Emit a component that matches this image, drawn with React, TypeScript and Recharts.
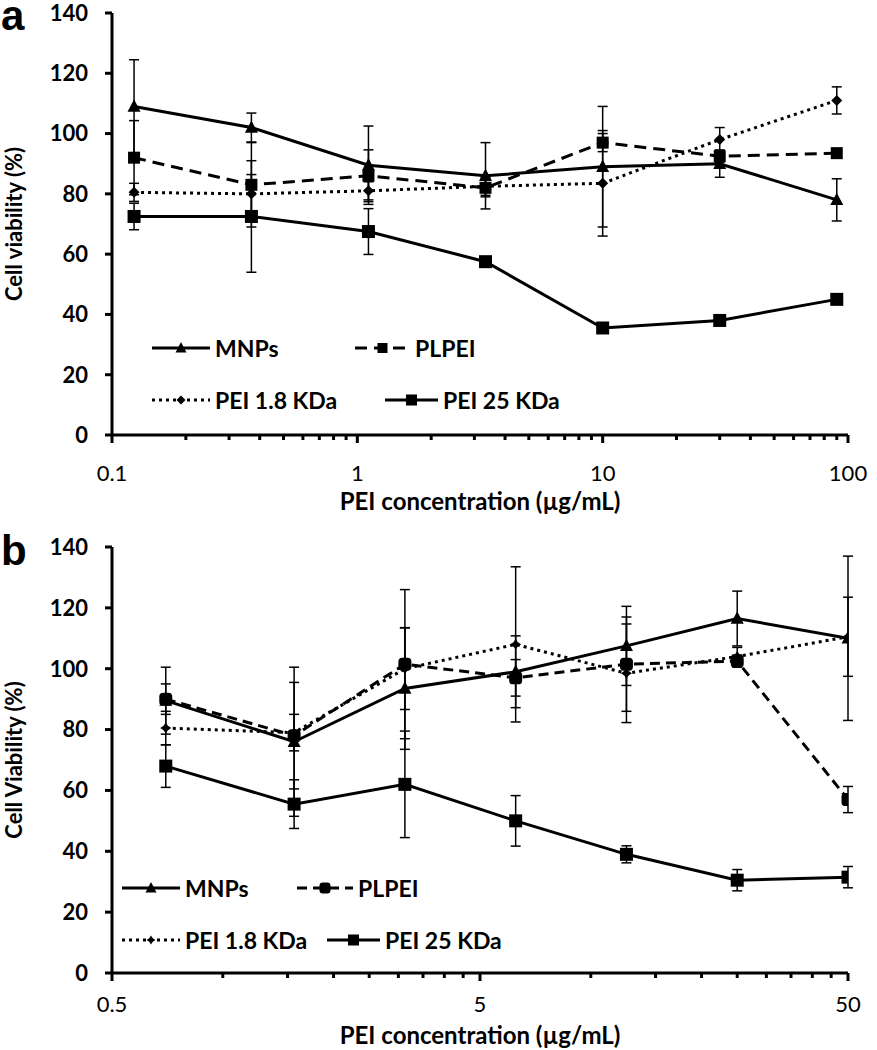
import { LineChart, Line, XAxis, YAxis, ErrorBar, Legend, Label } from 'recharts'

// panel a: 3-fold dilutions
const concA = [0.123, 0.37, 1.11, 3.33, 10, 30, 90]
const mnpA = [109, 102, 89.5, 86, 89, 90, 78]
const mnpAErr = [15.5, 4.8, 13, 11, 20, 4.5, 7]
const plpeiA = [92, 83, 86, 82, 97, 92.5, 93.5]
const plpeiAErr = [12.3, 14, 8.6, 3, 3, 2, 1.5]
const pei18A = [80.5, 80, 81, 82.5, 83.5, 98, 111]
const pei18AErr = [3, 6.4, 3, 3, 17.5, 4, 4.5]
const pei25A = [72.5, 72.5, 67.5, 57.5, 35.5, 38, 45]
const pei25AErr = [4.4, 18.5, 7.6, 1.5, 1.5, 1.2, 1.5]

// panel b: 2-fold dilutions
const concB = [0.7, 1.5625, 3.125, 6.25, 12.5, 25, 50]
const mnpB = [89.5, 76, 93.5, 99, 107.5, 116.5, 110]
const mnpBErr = [11, 24.5, 20, 11.8, 13, 9, 27]
const plpeiB = [90, 78, 101.5, 97, 101.5, 102.5, 57]
const plpeiBErr = [5, 17.5, 24.5, 6, 15.5, 2, 4.3]
const pei18B = [80.5, 79, 100, 108, 98.5, 104, 110.5]
const pei18BErr = [5.5, 6, 13.4, 25.5, 16.2, 3, 13]
const pei25B = [68, 55.5, 62, 50, 39, 30.5, 31.5]
const pei25BErr = [7, 8, 17.5, 8.3, 2.8, 3.5, 3.5]

const yTicks = [0, 20, 40, 60, 80, 100, 120, 140]
const xTicksA = [0.1, 0.2, 0.3, 0.4, 0.5, 0.6, 0.7, 0.8, 0.9, 1, 2, 3, 4, 5, 6, 7, 8, 9, 10, 20, 30, 40, 50, 60, 70, 80, 90, 100]
const xLabelsA = [0.1, 1, 10, 100]
const xTicksB = [0.5, 1, 1.5, 2, 2.5, 3, 3.5, 4, 4.5, 5, 10, 15, 20, 25, 30, 35, 40, 45, 50]
const xLabelsB = [0.5, 5, 50]

const FONT = 'Lato, "DejaVu Sans", sans-serif'

type Kind = 'triangle' | 'square' | 'round' | 'diamond' | 'star'

interface SeriesDef {
  key: string
  name: string
  dash?: string
  marker: Kind
  size: number
}

const seriesA: SeriesDef[] = [
  { key: 'mnp', name: 'MNPs', marker: 'triangle', size: 13 },
  { key: 'plpei', name: 'PLPEI', dash: '12 7', marker: 'square', size: 12 },
  { key: 'pei18', name: 'PEI 1.8 KDa', dash: '3 4', marker: 'diamond', size: 11 },
  { key: 'pei25', name: 'PEI 25 KDa', marker: 'square', size: 13 },
]

const seriesB: SeriesDef[] = [
  { key: 'mnp', name: 'MNPs', marker: 'triangle', size: 13 },
  { key: 'plpei', name: 'PLPEI', dash: '10 6', marker: 'round', size: 13 },
  { key: 'pei18', name: 'PEI 1.8 KDa', dash: '3 4', marker: 'star', size: 11 },
  { key: 'pei25', name: 'PEI 25 KDa', marker: 'square', size: 13 },
]

const dataA = concA.map((c, i) => ({
  conc: c,
  mnp: mnpA[i], mnpErr: mnpAErr[i],
  plpei: plpeiA[i], plpeiErr: plpeiAErr[i],
  pei18: pei18A[i], pei18Err: pei18AErr[i],
  pei25: pei25A[i], pei25Err: pei25AErr[i],
}))

const dataB = concB.map((c, i) => ({
  conc: c,
  mnp: mnpB[i], mnpErr: mnpBErr[i],
  plpei: plpeiB[i], plpeiErr: plpeiBErr[i],
  pei18: pei18B[i], pei18Err: pei18BErr[i],
  pei25: pei25B[i], pei25Err: pei25BErr[i],
}))

function Marker({ kind, cx, cy, s }: { kind: Kind; cx: number; cy: number; s: number }) {
  const h = s / 2
  if (kind === 'triangle')
    return <polygon points={`${cx},${cy - h * 1.1} ${cx + h},${cy + h * 0.8} ${cx - h},${cy + h * 0.8}`} fill='#000' />
  if (kind === 'square') return <rect x={cx - h} y={cy - h} width={s} height={s} fill='#000' />
  if (kind === 'round') return <rect x={cx - h} y={cy - h} width={s} height={s} rx={s * 0.3} fill='#000' />
  if (kind === 'diamond')
    return <polygon points={`${cx},${cy - h} ${cx + h},${cy} ${cx},${cy + h} ${cx - h},${cy}`} fill='#000' />
  const q = h * 0.4
  return (
    <polygon
      points={`${cx},${cy - h} ${cx + q},${cy - q} ${cx + h},${cy} ${cx + q},${cy + q} ${cx},${cy + h} ${cx - q},${cy + q} ${cx - h},${cy} ${cx - q},${cy - q}`}
      fill='#000'
    />
  )
}

function LogTick(props: any) {
  const { x, y, payload, labels, labelDy } = props
  const major = labels.includes(payload.value)
  return (
    <g>
      <line x1={x} x2={x} y1={y} y2={y + (major ? 8 : 5)} stroke='#000' strokeWidth={3} />
      {major && (
        <text x={x} y={y + labelDy} textAnchor='middle' dominantBaseline='central' fontFamily={FONT} fontSize={22} fill='#000'>
          {String(payload.value)}
        </text>
      )}
    </g>
  )
}

interface LegendSpot {
  x: number
  y: number
  len: number
}

function makeLegend(series: SeriesDef[], spots: Record<string, LegendSpot>, w: number, h: number) {
  return () => (
    <svg width={w} height={h} style={{ pointerEvents: 'none' }}>
      {series.map((s) => {
        const p = spots[s.key]
        return (
          <g key={s.key}>
            <line x1={p.x} x2={p.x + p.len} y1={p.y} y2={p.y} stroke='#000' strokeWidth={3} strokeDasharray={s.dash} />
            <Marker kind={s.marker} cx={p.x + p.len / 2} cy={p.y} s={s.size - 2} />
            <text x={p.x + p.len + 5} y={p.y} dominantBaseline='central' fontFamily={FONT} fontWeight={700} fontSize={23} fill='#000'>
              {s.name}
            </text>
          </g>
        )
      })}
    </svg>
  )
}

interface PanelProps {
  data: any[]
  series: SeriesDef[]
  height: number
  marginTop: number
  xAxisHeight: number
  xDomain: [number, number]
  xTicks: number[]
  xLabels: number[]
  tickDy: number
  titleOffset: number
  yTitle: string
  legendSpots: Record<string, LegendSpot>
}

function Panel(p: PanelProps) {
  return (
    <LineChart width={877} height={p.height} data={p.data} margin={{ top: p.marginTop, right: 29, bottom: 0, left: 0 }}>
      <XAxis
        dataKey='conc'
        type='number'
        scale='log'
        domain={p.xDomain}
        ticks={p.xTicks}
        interval={0}
        allowDataOverflow
        height={p.xAxisHeight}
        axisLine={{ stroke: '#000', strokeWidth: 3 }}
        tickLine={false}
        tickSize={0}
        tickMargin={0}
        tick={(t: any) => <LogTick {...t} labels={p.xLabels} labelDy={p.tickDy} />}
      >
        <Label
          value='PEI concentration (µg/mL)'
          position='insideBottom'
          offset={p.titleOffset}
          style={{ fontFamily: FONT, fontWeight: 700, fontSize: 24, fill: '#000' }}
        />
      </XAxis>
      <YAxis
        type='number'
        domain={[0, 140]}
        ticks={yTicks}
        interval={0}
        width={112}
        axisLine={{ stroke: '#000', strokeWidth: 3 }}
        tickLine={{ stroke: '#000', strokeWidth: 3 }}
        tickSize={7}
        tickMargin={17}
        tick={{ fontFamily: FONT, fontWeight: 700, fontSize: 22, fill: '#000' }}
      >
        <Label
          value={p.yTitle}
          angle={-90}
          position='insideLeft'
          offset={14}
          style={{ fontFamily: FONT, fontWeight: 700, fontSize: 22, fill: '#000', textAnchor: 'middle' }}
        />
      </YAxis>
      <Legend
        layout='horizontal'
        verticalAlign='middle'
        align='center'
        wrapperStyle={{ position: 'absolute', left: 0, top: 0, width: 877, height: p.height }}
        content={makeLegend(p.series, p.legendSpots, 877, p.height)}
      />
      {p.series.map((s) => (
        <Line
          key={s.key}
          dataKey={s.key}
          name={s.name}
          type='linear'
          stroke='#000'
          strokeWidth={3}
          strokeDasharray={s.dash}
          isAnimationActive={false}
          activeDot={false}
          dot={(d: any) => <Marker key={`${s.key}-${d.index}`} kind={s.marker} cx={d.cx} cy={d.cy} s={s.size} />}
        >
          <ErrorBar dataKey={`${s.key}Err`} direction='y' width={5} stroke='#000' strokeWidth={1.5} />
        </Line>
      ))}
    </LineChart>
  )
}

const spotsA: Record<string, LegendSpot> = {
  mnp: { x: 152, y: 348, len: 58 },
  plpei: { x: 355, y: 348, len: 55 },
  pei18: { x: 152, y: 400, len: 58 },
  pei25: { x: 385, y: 400, len: 53 },
}

const spotsB: Record<string, LegendSpot> = {
  mnp: { x: 122, y: 358, len: 58 },
  plpei: { x: 297, y: 358, len: 56 },
  pei18: { x: 122, y: 410, len: 58 },
  pei25: { x: 327, y: 410, len: 53 },
}

export default function App() {
  return (
    <div style={{ position: 'absolute', left: 0, top: 0, width: 877, height: 1050, background: '#fff', overflow: 'hidden' }}>
      <div style={{ position: 'absolute', left: 0, top: 0 }}>
        <Panel
          data={dataA}
          series={seriesA}
          height={530}
          marginTop={13}
          xAxisHeight={95}
          xDomain={[0.1, 100]}
          xTicks={xTicksA}
          xLabels={xLabelsA}
          tickDy={37}
          titleOffset={20}
          yTitle='Cell viability (%)'
          legendSpots={spotsA}
        />
      </div>
      <div style={{ position: 'absolute', left: 0, top: 530 }}>
        <Panel
          data={dataB}
          series={seriesB}
          height={520}
          marginTop={17}
          xAxisHeight={77}
          xDomain={[0.5, 50]}
          xTicks={xTicksB}
          xLabels={xLabelsB}
          tickDy={30}
          titleOffset={6}
          yTitle='Cell Viability (%)'
          legendSpots={spotsB}
        />
      </div>
      <svg width={877} height={1050} style={{ position: 'absolute', left: 0, top: 0, pointerEvents: 'none' }}>
        <text x={1} y={30} fontFamily='"Liberation Sans", Arial, sans-serif' fontWeight={700} fontSize={42} fill='#000'>a</text>
        <text x={1} y={565} fontFamily='"Liberation Sans", Arial, sans-serif' fontWeight={700} fontSize={42} fill='#000'>b</text>
      </svg>
    </div>
  )
}
